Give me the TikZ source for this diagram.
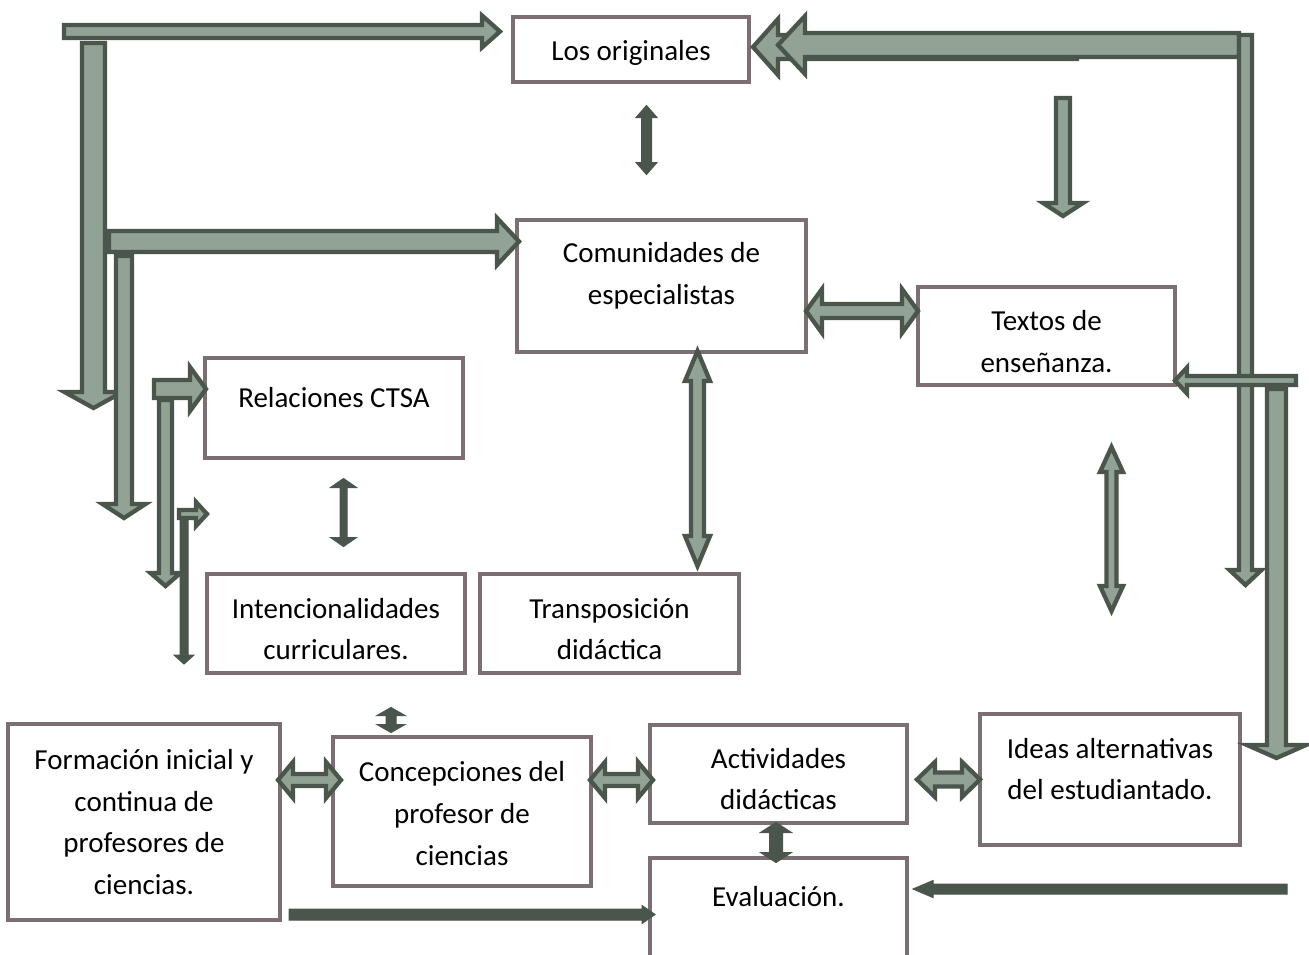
\documentclass[tikz,border=0pt]{standalone}
\usepackage{fontspec}
\setmainfont{Carlito}
\definecolor{dk}{RGB}{74,85,76}
\definecolor{lt}{RGB}{146,162,149}
\definecolor{bx}{RGB}{123,111,115}
% single block arrow: [style]{x}{y}{angle}{length}{shaft half}{head half}{head length}
\newcommand{\sarr}[8][]{%
  \begin{scope}[shift={(#2,#3)},rotate=#4]
    \path[#1] (0,{-#6}) -- ({#5-#8},{-#6}) -- ({#5-#8},{-#7}) -- (#5,0)
      -- ({#5-#8},#7) -- ({#5-#8},#6) -- (0,#6) -- cycle;
  \end{scope}}
% double block arrow
\newcommand{\darr}[8][]{%
  \begin{scope}[shift={(#2,#3)},rotate=#4]
    \path[#1] (0,0) -- (#8,{-#7}) -- (#8,{-#6}) -- ({#5-#8},{-#6}) -- ({#5-#8},{-#7})
      -- (#5,0) -- ({#5-#8},#7) -- ({#5-#8},#6) -- (#8,#6) -- (#8,#7) -- cycle;
  \end{scope}}
\tikzset{
  box/.style={draw=bx, line width=4.5pt, fill=white, inner sep=0pt},
  txt/.style={font=\fontsize{29}{41.7}\selectfont, align=center, inner sep=0pt, text=black},
  la/.style={draw=dk, fill=lt, line width=4.3pt, line join=miter},
  da/.style={draw=dk, fill=dk, line width=1pt, line join=miter},
}
\begin{document}
\begin{tikzpicture}[x=1pt,y=-1pt]
\useasboundingbox (0,0) rectangle (1309,954);
\clip (0,0) rectangle (1309,954);
\fill[white] (0,0) rectangle (1309,954);

% ---- boxes ----
\node[box, minimum width=236pt, minimum height=65pt] (orig) at (631,49.5) {};
\node[box, minimum width=289pt, minimum height=132pt] (com) at (661.5,286) {};
\node[box, minimum width=257pt, minimum height=98pt] (tex) at (1046.5,336) {};
\node[box, minimum width=258pt, minimum height=100pt] (rel) at (334,408) {};
\node[box, minimum width=258pt, minimum height=99pt] (int) at (336,623.5) {};
\node[box, minimum width=259pt, minimum height=99pt] (tra) at (609.5,623.5) {};
\node[box, minimum width=272pt, minimum height=196pt] (for) at (144,822) {};
\node[box, minimum width=258pt, minimum height=149pt] (con) at (462,811.5) {};
\node[box, minimum width=257pt, minimum height=98pt] (act) at (778.5,774) {};
\node[box, minimum width=260pt, minimum height=131pt] (ide) at (1110,779.5) {};
\node[box, minimum width=257pt, minimum height=142pt] (eva) at (778.5,929) {};

% ---- texts ----
\node[txt] (orig-t) at (631,52.5) {Los originales};
\node[txt] (com-t) at (661.5,275.5) {Comunidades de\\especialistas};
\node[txt] (tex-t) at (1046.5,341.5) {Textos de\\enseñanza.};
\node[txt] (rel-t) at (334,397.5) {Relaciones CTSA};
\node[txt] (int-t) at (336,629) {Intencionalidades\\curriculares.};
\node[txt] (tra-t) at (609.5,629) {Transposición\\didáctica};
\node[txt] (for-t) at (144,822) {Formación inicial y\\continua de\\profesores de\\ciencias.};
\node[txt] (con-t) at (462,813.5) {Concepciones del\\profesor de\\ciencias};
\node[txt] (act-t) at (778.5,779) {Actividades\\didácticas};
\node[txt] (ide-t) at (1110,769) {Ideas alternativas\\del estudiantado.};
\node[txt] (eva-t) at (778.5,896.5) {Evaluación.};

% ---- light block arrows ----
\sarr[la]{64}{31.5}{0}{436}{6.5}{16}{18}
\sarr[la]{93.5}{43}{-90}{365}{11.5}{29}{16}
\sarr[la]{109}{241.5}{0}{410}{10.5}{23.5}{22}
\sarr[la]{124}{256}{-90}{262}{8}{21.5}{14}
\sarr[la]{154}{389}{0}{52}{9}{22}{16}
\sarr[la]{165.5}{400}{-90}{186}{6.5}{15}{13}
\sarr[la]{179}{514}{0}{28}{4}{12}{11}
\sarr[da]{184}{520}{-90}{144}{4}{10}{9}

\sarr[la]{1077}{47}{180}{324}{12}{28}{25}
\sarr[la]{1239}{45}{180}{461}{12}{29}{27}
\sarr[la]{1245.5}{35}{-90}{550}{6.5}{16}{15}
\sarr[la]{1063}{98}{-90}{118}{7}{20}{13}
\sarr[la]{1276.5}{389}{-90}{369}{9.5}{29.5}{13}
\sarr[la]{1296}{380.5}{180}{121}{4.5}{13}{12}

\darr[la]{806}{311}{0}{112}{7}{22}{16}
\darr[la]{697.5}{351}{-90}{215}{6.5}{12.5}{30}
\darr[la]{1111.5}{447}{-90}{164}{5}{11.5}{25}
\darr[la]{278}{780}{0}{63}{6}{18}{15}
\darr[la]{590}{780}{0}{63}{6}{18}{15}
\darr[la]{917}{779.5}{0}{63}{7}{17.5}{18}

% ---- dark solid arrows ----
\darr[da]{343.5}{478.5}{-90}{68}{3.5}{13}{9}
\darr[da]{646.5}{105.5}{-90}{69}{5}{10.5}{12}
\darr[da]{391}{707.5}{-90}{25}{5}{14}{8}
\darr[da]{776}{822.5}{-90}{40}{6.5}{15.5}{10}
\sarr[da]{289}{914.5}{0}{366}{5.5}{9}{13}
\sarr[da]{1287}{889}{180}{374}{5}{8.5}{20}
\end{tikzpicture}
\end{document}
